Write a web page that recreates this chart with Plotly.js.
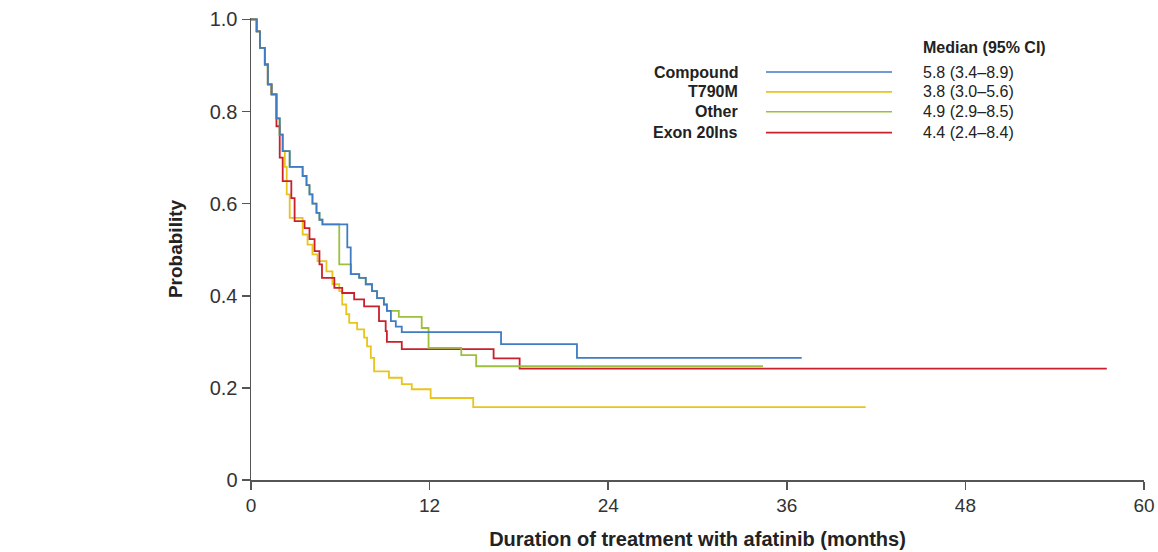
<!DOCTYPE html>
<html>
<head>
<meta charset="utf-8">
<script src="https://cdn.plot.ly/plotly-3.0.1.min.js"></script>
<style>
html,body{margin:0;padding:0;background:#fff;}
#chart{width:1158px;height:552px;}
</style>
</head>
<body>
<div id="chart"></div>
<script>
// Series names and medians
const seriesNames = ["Compound", "T790M", "Other", "Exon 20Ins"];
const medianLabels = ["5.8 (3.4\u20138.9)", "3.8 (3.0\u20135.6)", "4.9 (2.9\u20138.5)", "4.4 (2.4\u20138.4)"];
const seriesColors = ["#3f7cc4", "#e8c41c", "#9cc03c", "#c8202c"];

// Kaplan-Meier step data (months, probability)
const compoundT = [0, 0.38, 0.6, 0.93, 1.13, 1.38, 1.71, 1.93, 2.13, 2.6, 3.47, 3.73, 3.93, 4.13, 4.4, 4.6, 4.8, 6.47, 6.7, 7.27, 7.71, 8.13, 8.47, 8.93, 9.13, 9.4, 9.73, 10.13, 16.8, 21.9, 37.0];
const compoundS = [1.0, 0.974, 0.938, 0.902, 0.859, 0.837, 0.785, 0.75, 0.714, 0.68, 0.66, 0.64, 0.62, 0.60, 0.58, 0.565, 0.555, 0.505, 0.447, 0.439, 0.425, 0.41, 0.395, 0.381, 0.367, 0.345, 0.333, 0.321, 0.295, 0.265, 0.265];

const t790mT = [0, 0.38, 0.6, 0.93, 1.13, 1.38, 1.71, 1.93, 2.13, 2.27, 2.4, 2.6, 3.47, 3.8, 4.13, 4.47, 5.07, 5.47, 5.93, 6.13, 6.4, 6.6, 7.13, 7.6, 7.8, 8.05, 8.27, 9.27, 10.13, 10.8, 12.07, 14.93, 41.3];
const t790mS = [1.0, 0.974, 0.938, 0.902, 0.859, 0.837, 0.785, 0.75, 0.714, 0.68, 0.62, 0.569, 0.533, 0.511, 0.49, 0.475, 0.453, 0.425, 0.41, 0.381, 0.36, 0.341, 0.327, 0.309, 0.29, 0.265, 0.236, 0.222, 0.208, 0.197, 0.178, 0.158, 0.158];

const otherT = [0, 0.38, 0.6, 0.93, 1.13, 1.38, 1.71, 1.93, 2.13, 2.6, 3.47, 3.73, 3.93, 4.13, 4.4, 4.6, 4.8, 5.93, 6.73, 7.27, 7.71, 8.13, 8.47, 8.93, 9.13, 9.93, 11.47, 11.93, 14.13, 15.13, 34.4];
const otherS = [1.0, 0.974, 0.938, 0.902, 0.859, 0.837, 0.785, 0.75, 0.714, 0.68, 0.66, 0.64, 0.62, 0.60, 0.58, 0.565, 0.555, 0.468, 0.447, 0.439, 0.425, 0.41, 0.395, 0.381, 0.367, 0.354, 0.33, 0.287, 0.271, 0.247, 0.247];

const exon20T = [0, 0.38, 0.6, 0.93, 1.13, 1.38, 1.71, 1.93, 2.13, 2.71, 2.93, 3.6, 3.93, 4.27, 4.6, 4.77, 5.6, 6.13, 6.93, 7.6, 8.6, 9.05, 9.13, 10.13, 16.3, 18.05, 57.5];
const exon20S = [1.0, 0.974, 0.938, 0.902, 0.859, 0.837, 0.768, 0.70, 0.649, 0.612, 0.562, 0.547, 0.523, 0.497, 0.468, 0.439, 0.417, 0.406, 0.392, 0.377, 0.345, 0.323, 0.30, 0.284, 0.264, 0.242, 0.242];

// Axis ticks
const xTicks = [0, 12, 24, 36, 48, 60];
const yTicks = [0, 0.2, 0.4, 0.6, 0.8, 1.0];
const yTickText = ["0", "0.2", "0.4", "0.6", "0.8", "1.0"];

const seriesT = [compoundT, t790mT, otherT, exon20T];
const seriesS = [compoundS, t790mS, otherS, exon20S];
const drawOrder = [1, 3, 2, 0];

const traces = drawOrder.map(i => ({
  type: "scatter", mode: "lines",
  x: seriesT[i], y: seriesS[i],
  name: seriesNames[i],
  line: {shape: "hv", color: seriesColors[i], width: 1.8},
  showlegend: false, hoverinfo: "skip"
}));

const fontFam = "Liberation Sans, Arial, Helvetica, sans-serif";

// Custom legend (labels, sample lines, medians); paper coords for plot area l=251, width 893
const rowY = [0.883, 0.840, 0.797, 0.752];
const labX = (740 - 251) / 893, lineX0 = (766 - 251) / 893, lineX1 = (892 - 251) / 893, valX = (921 - 251) / 893;
const annotations = [{
  xref: "paper", yref: "paper", x: valX, y: 0.937, xanchor: "left", yanchor: "middle",
  text: "<b>Median (95% CI)</b>", showarrow: false, font: {family: fontFam, size: 16, color: "#222"}
}];
const shapes = [];
seriesNames.forEach((nm, i) => {
  annotations.push({xref: "paper", yref: "paper", x: labX, y: rowY[i], xanchor: "right", yanchor: "middle",
    text: "<b>" + nm + "</b>", showarrow: false, font: {family: fontFam, size: 16, color: "#222"}});
  annotations.push({xref: "paper", yref: "paper", x: valX, y: rowY[i], xanchor: "left", yanchor: "middle",
    text: medianLabels[i], showarrow: false, font: {family: fontFam, size: 16, color: "#222"}});
  shapes.push({type: "line", xref: "paper", yref: "paper", x0: lineX0, x1: lineX1, y0: rowY[i], y1: rowY[i],
    line: {color: seriesColors[i], width: 1.6}});
});

const layout = {
  width: 1158, height: 552,
  margin: {l: 251, r: 14, t: 18, b: 72},
  paper_bgcolor: "#fff", plot_bgcolor: "#fff",
  font: {family: fontFam, color: "#333"},
  xaxis: {
    range: [0, 60], tickvals: xTicks, ticktext: xTicks.map(String),
    showgrid: false, zeroline: false, showline: true, linecolor: "#555", linewidth: 1.5,
    ticks: "outside", ticklen: 8, tickwidth: 1.5, tickcolor: "#555",
    tickfont: {size: 19, color: "#333", family: fontFam},
    title: {text: "<b>Duration of treatment with afatinib (months)</b>", font: {size: 20, color: "#222", family: fontFam}, standoff: 16},
    automargin: false
  },
  yaxis: {
    range: [0, 1.003], tickvals: yTicks, ticktext: yTickText,
    showgrid: false, zeroline: false, showline: true, linecolor: "#555", linewidth: 1.5,
    ticks: "outside", ticklen: 8, tickwidth: 1.5, tickcolor: "#555",
    tickfont: {size: 20, color: "#333", family: fontFam},
    title: {text: "<b>Probability</b>", font: {size: 19, color: "#222", family: fontFam}, standoff: 22},
    automargin: false
  },
  annotations: annotations,
  shapes: shapes
};

Plotly.newPlot("chart", traces, layout, {displayModeBar: false, staticPlot: true});
</script>
</body>
</html>
